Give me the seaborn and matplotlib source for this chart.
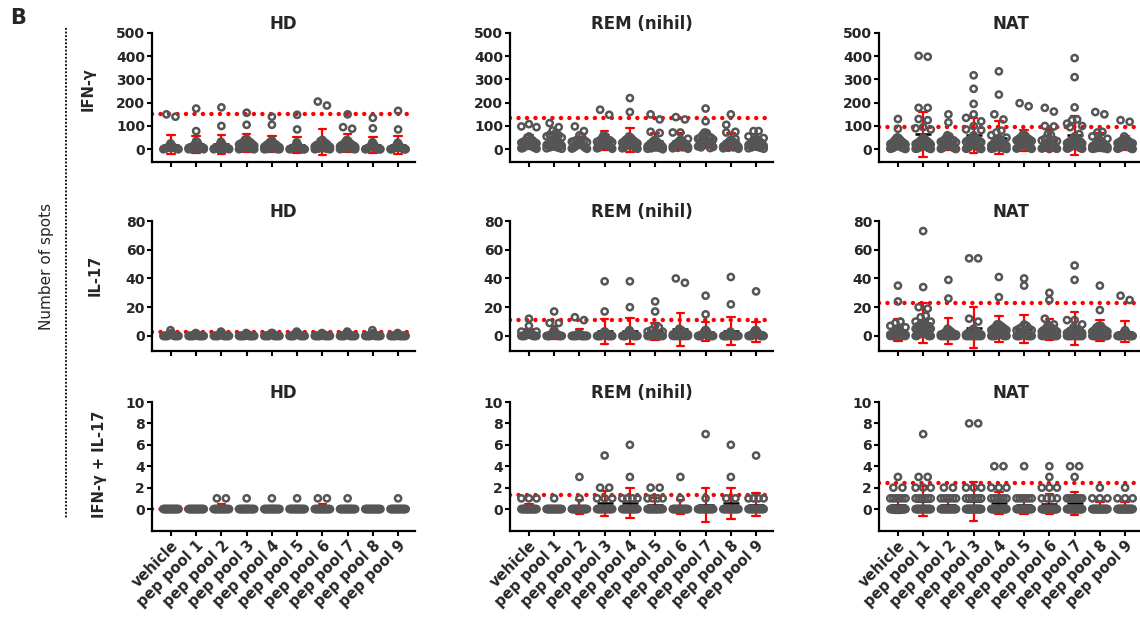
import warnings
import numpy as np
import pandas as pd
import matplotlib
matplotlib.use('Agg')
import matplotlib.pyplot as plt
from matplotlib.lines import Line2D
import seaborn as sns

warnings.filterwarnings('ignore')

groups = ['vehicle', 'pep pool 1', 'pep pool 2', 'pep pool 3', 'pep pool 4',
          'pep pool 5', 'pep pool 6', 'pep pool 7', 'pep pool 8', 'pep pool 9']
cohorts = ['HD', 'REM (nihil)', 'NAT']
readouts = ['IFN-γ', 'IL-17', 'IFN-γ + IL-17']

# IFN-γ spots, one list per stimulus
ifn_hd = [
    [150, 140, 25, 20, 15, 12, 10, 8, 8, 7, 6, 6, 5, 5, 4, 3, 3, 2, 2, 1, 0, 0],
    [175, 78, 35, 30, 22, 18, 15, 12, 10, 9, 8, 7, 6, 5, 5, 4, 3, 2, 2, 1, 0, 0],
    [180, 100, 32, 25, 20, 16, 12, 10, 9, 8, 7, 6, 5, 4, 4, 3, 2, 2, 1, 1, 0, 0],
    [157, 105, 45, 40, 35, 30, 28, 25, 22, 20, 15, 12, 10, 8, 6, 5, 4, 3, 2, 1, 0, 0],
    [140, 105, 38, 32, 28, 25, 22, 20, 18, 15, 12, 10, 8, 6, 5, 4, 3, 2, 1, 0, 0, 0],
    [148, 85, 30, 22, 18, 15, 12, 10, 8, 7, 6, 5, 4, 4, 3, 2, 2, 1, 1, 0, 0, 0],
    [205, 188, 40, 35, 30, 25, 20, 18, 15, 12, 10, 8, 6, 5, 4, 3, 2, 1, 0, 0],
    [150, 95, 88, 40, 35, 30, 25, 22, 20, 18, 15, 12, 10, 8, 6, 5, 4, 3, 2, 1, 0, 0],
    [135, 90, 30, 25, 20, 18, 15, 12, 10, 8, 7, 6, 5, 4, 3, 3, 2, 1, 1, 0, 0, 0],
    [165, 85, 28, 22, 18, 15, 12, 10, 9, 8, 6, 5, 4, 4, 3, 2, 2, 1, 0, 0, 0, 0],
]
ifn_rem = [
    [108, 98, 95, 55, 48, 42, 38, 35, 32, 30, 28, 25, 22, 20, 18, 16, 14, 12, 10, 8, 7, 5, 4, 2],
    [112, 95, 80, 70, 62, 60, 55, 50, 45, 42, 40, 38, 35, 32, 30, 28, 25, 22, 20, 18, 15, 12, 10, 8, 6, 4, 2],
    [98, 78, 60, 55, 40, 38, 35, 32, 30, 28, 25, 22, 20, 18, 16, 14, 12, 10, 8, 6, 5, 3, 2],
    [170, 148, 60, 55, 45, 40, 38, 35, 32, 30, 28, 25, 22, 20, 18, 16, 14, 12, 10, 8, 6, 4, 2],
    [220, 160, 55, 50, 45, 42, 40, 35, 32, 30, 28, 25, 22, 20, 18, 15, 12, 10, 8, 6, 4, 2],
    [150, 128, 75, 70, 40, 38, 35, 32, 30, 28, 26, 25, 22, 20, 18, 16, 14, 12, 10, 8, 6, 4, 2, 0],
    [138, 128, 72, 72, 45, 40, 38, 35, 32, 30, 28, 25, 22, 20, 18, 16, 14, 12, 10, 8, 6, 4, 2],
    [175, 120, 72, 70, 60, 55, 50, 48, 45, 42, 40, 38, 35, 32, 30, 28, 25, 22, 20, 18, 15, 12, 10, 8, 5],
    [150, 105, 75, 72, 45, 40, 38, 35, 32, 30, 28, 25, 22, 20, 18, 16, 14, 12, 10, 8, 6, 4, 2],
    [78, 78, 55, 48, 45, 42, 40, 38, 35, 32, 30, 28, 25, 22, 20, 18, 15, 12, 10, 8, 6, 4, 2],
]
ifn_nat = [
    [130, 88, 50, 50, 45, 42, 40, 38, 35, 32, 30, 28, 26, 25, 24, 22, 20, 18, 16, 15, 14, 12, 10, 9, 8, 7, 6, 5, 4, 3, 2, 1],
    [402, 398, 178, 178, 130, 125, 95, 90, 85, 50, 45, 42, 40, 38, 35, 32, 30, 28, 26, 25, 22, 20, 18, 16, 15, 14, 12, 10, 8, 6, 5, 4, 3, 2, 1],
    [150, 115, 60, 55, 45, 40, 38, 35, 32, 30, 28, 25, 22, 20, 18, 16, 15, 14, 12, 10, 9, 8, 6, 5, 4, 3, 2, 1],
    [318, 260, 195, 150, 135, 120, 100, 85, 82, 60, 50, 45, 42, 40, 38, 35, 32, 30, 28, 25, 22, 20, 18, 16, 14, 12, 10, 8, 6, 5, 4, 3, 2, 1],
    [335, 235, 150, 128, 80, 72, 60, 50, 45, 42, 40, 38, 35, 32, 30, 28, 25, 22, 20, 18, 16, 15, 14, 12, 10, 8, 6, 5, 4, 3, 2, 1],
    [198, 185, 65, 60, 55, 50, 48, 45, 42, 40, 38, 35, 32, 30, 28, 26, 25, 22, 20, 18, 16, 15, 14, 12, 10, 8, 6, 5, 4, 3, 2],
    [178, 162, 100, 98, 65, 62, 45, 40, 38, 35, 32, 30, 28, 25, 22, 20, 18, 16, 15, 14, 12, 10, 9, 8, 6, 5, 4, 3, 2, 1],
    [392, 310, 180, 128, 125, 110, 100, 95, 65, 55, 50, 48, 45, 42, 40, 38, 35, 32, 30, 28, 26, 25, 22, 20, 18, 16, 15, 14, 12, 10, 8, 6, 5, 4, 3, 2],
    [160, 150, 75, 72, 55, 45, 40, 38, 35, 32, 30, 28, 25, 22, 20, 18, 16, 15, 14, 12, 10, 9, 8, 6, 5, 4, 3, 2, 1],
    [125, 118, 55, 45, 40, 38, 35, 32, 30, 28, 26, 25, 22, 20, 18, 16, 15, 14, 12, 10, 9, 8, 6, 5, 4, 3, 2, 1],
]

# IL-17 spots
il17_hd = [
    [4, 2, 1, 1, 1, 1, 0, 0, 0, 0, 0, 0, 0, 0, 0, 0, 0, 0],
    [2, 1, 1, 1, 0, 0, 0, 0, 0, 0, 0, 0, 0, 0, 0, 0, 0, 0],
    [3, 2, 1, 1, 1, 0, 0, 0, 0, 0, 0, 0, 0, 0, 0, 0, 0, 0],
    [2, 1, 1, 1, 0, 0, 0, 0, 0, 0, 0, 0, 0, 0, 0, 0, 0, 0],
    [2, 2, 1, 1, 1, 0, 0, 0, 0, 0, 0, 0, 0, 0, 0, 0, 0, 0],
    [3, 2, 2, 1, 1, 1, 0, 0, 0, 0, 0, 0, 0, 0, 0, 0, 0, 0],
    [2, 1, 1, 1, 0, 0, 0, 0, 0, 0, 0, 0, 0, 0, 0, 0, 0, 0],
    [3, 2, 1, 1, 1, 0, 0, 0, 0, 0, 0, 0, 0, 0, 0, 0, 0, 0],
    [4, 2, 1, 1, 0, 0, 0, 0, 0, 0, 0, 0, 0, 0, 0, 0, 0, 0],
    [2, 1, 1, 0, 0, 0, 0, 0, 0, 0, 0, 0, 0, 0, 0, 0, 0, 0],
]
il17_rem = [
    [12, 7, 3, 3, 2, 2, 2, 1, 1, 1, 1, 1, 0, 0, 0, 0, 0, 0, 0, 0, 0, 0],
    [17, 9, 9, 4, 3, 2, 2, 2, 1, 1, 1, 1, 0, 0, 0, 0, 0, 0, 0, 0, 0, 0],
    [13, 11, 2, 1, 1, 1, 1, 0, 0, 0, 0, 0, 0, 0, 0, 0, 0, 0, 0, 0],
    [38, 17, 3, 3, 2, 2, 1, 1, 1, 1, 0, 0, 0, 0, 0, 0, 0, 0, 0, 0, 0, 0],
    [38, 20, 4, 3, 3, 2, 2, 1, 1, 1, 1, 0, 0, 0, 0, 0, 0, 0, 0, 0, 0, 0],
    [24, 17, 7, 6, 4, 3, 3, 2, 2, 1, 1, 1, 1, 0, 0, 0, 0, 0, 0, 0, 0, 0],
    [40, 37, 5, 4, 3, 2, 2, 1, 1, 1, 0, 0, 0, 0, 0, 0, 0, 0, 0, 0, 0],
    [28, 15, 4, 4, 3, 3, 2, 2, 1, 1, 1, 0, 0, 0, 0, 0, 0, 0, 0, 0, 0, 0],
    [41, 22, 3, 2, 2, 1, 1, 1, 0, 0, 0, 0, 0, 0, 0, 0, 0, 0, 0, 0, 0, 0],
    [31, 4, 4, 3, 3, 2, 2, 1, 1, 1, 0, 0, 0, 0, 0, 0, 0, 0, 0, 0],
]
il17_nat = [
    [35, 24, 10, 9, 7, 6, 5, 4, 4, 3, 3, 2, 2, 2, 1, 1, 1, 1, 0, 0, 0, 0, 0, 0, 0, 0, 0, 0],
    [73, 34, 20, 19, 14, 13, 10, 10, 9, 9, 8, 8, 7, 7, 6, 6, 5, 5, 4, 4, 3, 3, 2, 2, 1, 1, 1, 0, 0, 0, 0, 0],
    [39, 26, 5, 4, 3, 3, 2, 2, 1, 1, 1, 1, 0, 0, 0, 0, 0, 0, 0, 0, 0, 0, 0, 0, 0, 0],
    [54, 54, 12, 10, 5, 4, 3, 3, 2, 2, 1, 1, 1, 0, 0, 0, 0, 0, 0, 0, 0, 0, 0, 0, 0, 0, 0],
    [41, 27, 8, 8, 7, 6, 6, 5, 5, 4, 4, 3, 3, 2, 2, 2, 1, 1, 1, 0, 0, 0, 0, 0, 0, 0, 0, 0],
    [40, 35, 8, 7, 6, 5, 5, 4, 4, 3, 3, 2, 2, 1, 1, 1, 0, 0, 0, 0, 0, 0, 0, 0, 0, 0, 0],
    [30, 25, 12, 8, 7, 7, 6, 5, 5, 4, 4, 3, 3, 2, 2, 1, 1, 1, 0, 0, 0, 0, 0, 0, 0, 0, 0],
    [49, 39, 11, 11, 8, 6, 5, 4, 4, 3, 3, 2, 2, 1, 1, 1, 0, 0, 0, 0, 0, 0, 0, 0, 0, 0, 0, 0],
    [35, 18, 7, 7, 6, 5, 4, 4, 3, 3, 2, 2, 1, 1, 1, 0, 0, 0, 0, 0, 0, 0, 0, 0, 0, 0],
    [28, 25, 4, 3, 3, 2, 2, 1, 1, 1, 0, 0, 0, 0, 0, 0, 0, 0, 0, 0, 0, 0, 0, 0, 0],
]

# IFN-γ + IL-17: number of donors with 0, 1, 2, ... 8 spots
combo_levels = [0, 1, 2, 3, 4, 5, 6, 7, 8]
combo_hd_counts = [
    [18, 0, 0, 0, 0, 0, 0, 0, 0],
    [18, 0, 0, 0, 0, 0, 0, 0, 0],
    [16, 2, 0, 0, 0, 0, 0, 0, 0],
    [17, 1, 0, 0, 0, 0, 0, 0, 0],
    [17, 1, 0, 0, 0, 0, 0, 0, 0],
    [17, 1, 0, 0, 0, 0, 0, 0, 0],
    [16, 2, 0, 0, 0, 0, 0, 0, 0],
    [17, 1, 0, 0, 0, 0, 0, 0, 0],
    [18, 0, 0, 0, 0, 0, 0, 0, 0],
    [17, 1, 0, 0, 0, 0, 0, 0, 0],
]
combo_rem_counts = [
    [20, 3, 0, 0, 0, 0, 0, 0, 0],
    [20, 1, 0, 0, 0, 0, 0, 0, 0],
    [20, 1, 0, 1, 0, 0, 0, 0, 0],
    [16, 3, 2, 0, 0, 1, 0, 0, 0],
    [16, 4, 0, 1, 0, 0, 1, 0, 0],
    [16, 4, 2, 0, 0, 0, 0, 0, 0],
    [20, 1, 0, 1, 0, 0, 0, 0, 0],
    [18, 1, 0, 0, 0, 0, 0, 1, 0],
    [17, 2, 0, 1, 0, 0, 1, 0, 0],
    [17, 4, 0, 0, 0, 1, 0, 0, 0],
]
combo_nat_counts = [
    [24, 6, 2, 1, 0, 0, 0, 0, 0],
    [22, 6, 3, 2, 0, 0, 0, 1, 0],
    [20, 6, 2, 0, 0, 0, 0, 0, 0],
    [28, 6, 3, 0, 0, 0, 0, 0, 2],
    [24, 6, 3, 0, 2, 0, 0, 0, 0],
    [22, 6, 0, 0, 1, 0, 0, 0, 0],
    [30, 4, 3, 1, 1, 0, 0, 0, 0],
    [24, 7, 0, 1, 2, 0, 0, 0, 0],
    [26, 3, 1, 0, 0, 0, 0, 0, 0],
    [26, 3, 1, 0, 0, 0, 0, 0, 0],
]

# cut-off (dotted red line) per readout and cohort
cutoff_ifn = [150, 135, 97]
cutoff_il17 = [3, 11, 23]
cutoff_combo = [0, 1.3, 2.4]


def counts_to_values(counts):
    return [np.repeat(combo_levels, c) for c in counts]


def dot_positions(values, center, row_h, step=0.36, half=0.3):
    # GraphPad-like scatter: points closer than one row spread sideways
    v = np.asarray(values, dtype=float)
    order = np.argsort(-v, kind='stable')
    x = np.full(len(v), float(center))
    start = 0
    while start < len(order):
        top = v[order[start]]
        end = start
        while end < len(order) and v[order[end]] > top - row_h:
            end += 1
        idx = order[start:end]
        n = len(idx)
        if n > 1:
            span = min((n - 1) * step, 2 * half)
            slots = np.linspace(-span / 2, span / 2, n)
            slots = slots[np.argsort(np.abs(slots), kind='stable')]
            x[idx] += slots
        start = end
    return x


panels = [
    [ifn_hd, ifn_rem, ifn_nat],
    [il17_hd, il17_rem, il17_nat],
    [counts_to_values(combo_hd_counts), counts_to_values(combo_rem_counts),
     counts_to_values(combo_nat_counts)],
]
cutoffs = [cutoff_ifn, cutoff_il17, cutoff_combo]

ylims = [(-55, 500), (-10.5, 80), (-2.05, 10)]
yticks = [np.arange(0, 501, 100), np.arange(0, 81, 20), np.arange(0, 11, 2)]

sns.set_style('ticks')
plt.rcParams['font.family'] = ['DejaVu Sans']
plt.rcParams['font.weight'] = 'bold'

W, H = 1140, 617
fig = plt.figure(figsize=(W / 100, H / 100), dpi=100)

col_left = [152, 510, 879]
row_top = [33, 221, 402]
row_bot = [162, 351, 531]
ax_w = 263

grey = '#555555'

for r in range(3):
    lo, hi = ylims[r]
    row_h = 7 * (hi - lo) / (row_bot[r] - row_top[r])
    for c in range(3):
        ax = fig.add_axes([col_left[c] / W, 1 - row_bot[r] / H,
                           ax_w / W, (row_bot[r] - row_top[r]) / H])
        vals = panels[r][c]
        df = pd.DataFrame({
            'pos': np.repeat(np.arange(len(groups)), [len(v) for v in vals]),
            'spots': np.concatenate([np.asarray(v, dtype=float) for v in vals]),
        })
        df['x'] = np.concatenate([dot_positions(v, i, row_h) for i, v in enumerate(vals)])

        ax.axhline(cutoffs[r][c], color='red', lw=3.2, linestyle=(0, (0.01, 1.9)),
                   dash_capstyle='round', zorder=1)

        # mean ± SD
        sns.pointplot(data=df, x='pos', y='spots', native_scale=True, orient='x', ax=ax,
                      errorbar='sd', capsize=0.3, color='red', marker='',
                      linestyle='none', err_kws={'linewidth': 1.6, 'zorder': 2})
        sns.pointplot(data=df, x='pos', y='spots', native_scale=True, orient='x', ax=ax,
                      errorbar=None, color='black', marker='_', markersize=11,
                      markeredgewidth=1.8, linestyle='none', zorder=2.1)

        n_before = len(ax.collections)
        sns.scatterplot(data=df, x='x', y='spots', ax=ax, s=20, color=grey,
                        edgecolor=grey, linewidth=1.8, legend=False, zorder=3)
        for coll in ax.collections[n_before:]:
            coll.set_facecolor('none')
            coll.set_edgecolor(grey)

        ax.set_xlim(-0.75, 9.67)
        ax.set_ylim(lo, hi)
        ax.set_yticks(yticks[r])
        ax.set_xticks(range(len(groups)))
        ax.set_xlabel('')
        ax.set_ylabel('')
        sns.despine(ax=ax)
        for s in ['left', 'bottom']:
            ax.spines[s].set_linewidth(1.6)
            ax.spines[s].set_color('black')
        ax.tick_params(length=3.5, width=1.5, color='black', labelsize=10, pad=1.5)
        if r < 2:
            ax.set_xticklabels([])
        else:
            ax.set_xticklabels(groups, rotation=45, ha='right', rotation_mode='anchor',
                               fontsize=10.5, fontweight='bold')
        ax.set_title(cohorts[c], fontsize=12, fontweight='bold', pad=3)

# panel letter, shared label and divider
fig.text(10 / W, 1 - 8 / H, 'B', fontsize=15, fontweight='bold', va='top', ha='left')
fig.text(47 / W, 1 - 266 / H, 'Number of spots', fontsize=11, fontweight='normal',
         rotation=90, ha='center', va='center')
fig.add_artist(Line2D([66 / W, 66 / W], [1 - 28 / H, 1 - 518 / H], color='black',
                      lw=1.3, linestyle=(0, (1, 1))))

label_x = [88, 95, 99]
label_y = [89, 275, 464]
for lab, lx, ly in zip(readouts, label_x, label_y):
    fig.text(lx / W, 1 - ly / H, lab, fontsize=10.5, fontweight='bold', rotation=90,
             ha='center', va='center')

fig.savefig('out.png', dpi=100)
